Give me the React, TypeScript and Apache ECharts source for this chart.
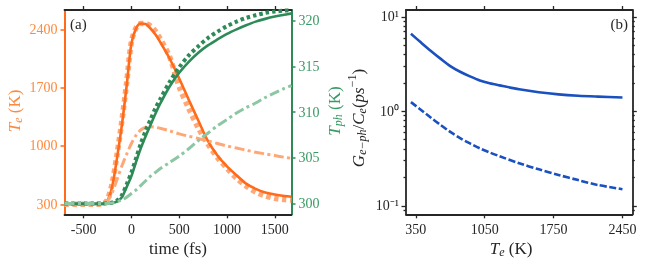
import React, { useEffect, useRef } from 'react';
import * as echarts from 'echarts';

// ---------- Panel (a) data ----------
const timeFs = [-700, -400, -300, -250, -200, -150, -100, -50, 0, 50, 100, 150, 200, 250, 300, 400, 500, 600, 700, 800, 900, 1000, 1100, 1200, 1300, 1400, 1500, 1600, 1675];
const teSolid = [300, 300, 302, 345, 520, 860, 1250, 1720, 2230, 2415, 2470, 2465, 2410, 2340, 2250, 2050, 1810, 1555, 1305, 1060, 885, 755, 648, 548, 485, 442, 418, 400, 390];
const teDotted = [300, 300, 305, 360, 560, 900, 1300, 1760, 2250, 2420, 2470, 2470, 2440, 2380, 2290, 2070, 1710, 1450, 1215, 1025, 862, 732, 612, 520, 447, 402, 372, 356, 350];
const teDashDot = [300, 300, 305, 340, 440, 600, 760, 900, 1030, 1130, 1195, 1225, 1232, 1224, 1212, 1182, 1145, 1117, 1090, 1060, 1030, 1000, 975, 950, 925, 905, 885, 865, 852];
const tphSolid = [300, 300, 300, 300.02, 300.08, 300.25, 300.7, 301.8, 303.0, 304.6, 306.1, 307.4, 308.6, 309.8, 310.9, 312.8, 314.3, 315.5, 316.5, 317.3, 317.95, 318.55, 319.05, 319.5, 319.9, 320.2, 320.45, 320.65, 320.8];
const tphDotted = [300, 300, 300, 300.04, 300.12, 300.35, 300.9, 302.1, 303.4, 305.0, 306.6, 308.0, 309.2, 310.4, 311.4, 313.3, 314.9, 316.2, 317.2, 318.1, 318.8, 319.4, 319.9, 320.3, 320.6, 320.85, 321.0, 321.1, 321.15];
const tphDashDot = [300, 300, 300, 300.02, 300.08, 300.2, 300.4, 300.7, 301.1, 301.5, 302.0, 302.5, 303.0, 303.4, 303.8, 304.5, 305.2, 306.0, 306.9, 307.7, 308.5, 309.2, 309.9, 310.5, 311.0, 311.6, 312.1, 312.6, 312.9];
const timeTicks = [-500, 0, 500, 1000, 1500];
const teTicks = [300, 1000, 1700, 2400];
const tphTicks = [300, 305, 310, 315, 320];

// ---------- Panel (b) data ----------
const teGrid = [300, 400, 500, 600, 700, 800, 900, 1000, 1100, 1200, 1400, 1600, 1800, 2000, 2200, 2450];
const gSolid = [6.61, 5.37, 4.38, 3.61, 3.01, 2.62, 2.34, 2.12, 1.98, 1.88, 1.71, 1.59, 1.51, 1.46, 1.43, 1.40];
const gDashed = [1.25, 1.04, 0.861, 0.719, 0.605, 0.521, 0.457, 0.406, 0.367, 0.335, 0.282, 0.243, 0.212, 0.187, 0.166, 0.150];
const teTicksB = [350, 1050, 1750, 2450];
const logMajor = [0.1, 1, 10];
const logMinor = [0.09, 0.2, 0.3, 0.4, 0.5, 0.6, 0.7, 0.8, 0.9, 2, 3, 4, 5, 6, 7, 8, 9];
const logLabels: Record<string, string> = { '-1': '10\u207B\u00B9', '0': '10\u2070', '1': '10\u00B9' };

const SERIF = 'Liberation Serif';
const ORANGE = '#ff6b1a';
const ORANGE_LIGHT = '#ffa877';
const ORANGE_TXT = '#ff8a3d';
const GREEN = '#2e8b57';
const GREEN_LIGHT = '#8cc6a2';
const GREEN_TXT = '#3a9a64';
const BLUE = '#1a50c0';
const FRAME = '#262626';

const pairs = (xs: number[], ys: number[]) => xs.map((x, i) => [x, ys[i]]);

let measureCtx: CanvasRenderingContext2D | null = null;
function measure(text: string, font: string) {
  if (!measureCtx) measureCtx = document.createElement('canvas').getContext('2d');
  if (!measureCtx) return text.length * 8;
  measureCtx.font = font;
  return measureCtx.measureText(text).width;
}

type Part = { t: string; it?: boolean; small?: boolean; dy?: number };
function mathLabel(parts: Part[], x: number, y: number, color: string, rotation: number, size = 17) {
  const fonts = parts.map((p) => ({ size: p.small ? size - 5 : size, style: p.it ? 'italic' : 'normal' }));
  const widths = parts.map((p, i) => measure(p.t, `${fonts[i].style} ${fonts[i].size}px ${SERIF}`));
  const total = widths.reduce((a, b) => a + b, 0);
  let cur = -total / 2;
  const children = parts.map((p, i) => {
    const el = {
      type: 'text', x: cur, y: p.dy || 0,
      style: { text: p.t, fontFamily: SERIF, fontSize: fonts[i].size, fontStyle: fonts[i].style, fill: color, align: 'left', verticalAlign: 'middle' },
    };
    cur += widths[i];
    return el;
  });
  return { type: 'group', x, y, rotation, children };
}

function buildOption(): any {
  const tickLab = (color: string) => ({ color, fontFamily: SERIF, fontSize: 14 });
  const xAx = (grid: number, pos: string, min: number, max: number, ticks: number[], showLabel: boolean) => ({
    type: 'value', gridIndex: grid, position: pos, min, max,
    axisLine: { show: true, onZero: false, lineStyle: { color: FRAME, width: 1.8 } },
    axisTick: { show: true, inside: false, length: 4, customValues: ticks, lineStyle: { color: FRAME, width: 1.3 } },
    axisLabel: { show: showLabel, customValues: ticks, margin: 8, ...tickLab(FRAME), formatter: (v: number) => String(v) },
    splitLine: { show: false },
  });
  const logAx = (pos: string, ticks: number[], len: number, showLine: boolean, showLabel: boolean) => ({
    type: 'log', gridIndex: 1, position: pos, min: 0.0813, max: 11.8, logBase: 10,
    axisLine: { show: showLine, onZero: false, lineStyle: { color: FRAME, width: 1.8 } },
    axisTick: { show: true, inside: false, length: len, customValues: ticks, lineStyle: { color: FRAME, width: 1.3 } },
    axisLabel: {
      show: showLabel, customValues: logMajor, margin: 7, ...tickLab(FRAME),
      formatter: (v: number) => logLabels[String(Math.round(Math.log10(v)))],
    },
    splitLine: { show: false },
  });

  const line = (name: string, data: any[], xi: number, yi: number, color: string, width: number, type: any, z: number) => ({
    type: 'line', name, data, xAxisIndex: xi, yAxisIndex: yi, showSymbol: false, symbol: 'none',
    smooth: 0.3, z, clip: true,
    lineStyle: { color, width, type, cap: 'butt', join: 'round' },
  });

  const yVal = (pos: string, min: number, max: number, ticks: number[], lineColor: string, txtColor: string) => ({
    type: 'value', gridIndex: 0, position: pos, min, max,
    axisLine: { show: true, onZero: false, lineStyle: { color: lineColor, width: 2 } },
    axisTick: { show: true, length: 4, customValues: ticks, lineStyle: { color: lineColor, width: 1.5 } },
    axisLabel: { customValues: ticks, margin: 7, ...tickLab(txtColor), formatter: (v: number) => String(v) },
    splitLine: { show: false },
  });

  const txt = (x: number, y: number, text: string, size: number, color: string, align: string) => ({
    type: 'text', x, y,
    style: { text, fontFamily: SERIF, fontSize: size, fill: color, align, verticalAlign: 'middle' },
  });

  const R = Math.PI / 2;
  return {
    animation: false,
    grid: [
      { left: 64.5, top: 10, width: 227, height: 204.3 },
      { left: 406, top: 10, width: 226.3, height: 204.3 },
    ],
    xAxis: [
      xAx(0, 'bottom', -700, 1675, timeTicks, true),
      xAx(0, 'top', -700, 1675, timeTicks, false),
      xAx(1, 'bottom', 250, 2550, teTicksB, true),
      xAx(1, 'top', 250, 2550, teTicksB, false),
    ],
    yAxis: [
      yVal('left', 180, 2632, teTicks, ORANGE, ORANGE_TXT),
      yVal('right', 298.83, 321.17, tphTicks, GREEN, GREEN_TXT),
      logAx('left', logMajor, 4.5, true, true),
      logAx('left', logMinor, 2.5, false, false),
      logAx('right', logMajor, 4.5, true, false),
      logAx('right', logMinor, 2.5, false, false),
    ],
    series: [
      line('Te dotted', pairs(timeFs, teDotted), 0, 0, ORANGE_LIGHT, 5.5, [4.5, 3.5], 2),
      line('Te solid', pairs(timeFs, teSolid), 0, 0, ORANGE, 2.6, 'solid', 3),
      line('Te dashdot', pairs(timeFs, teDashDot), 0, 0, ORANGE_LIGHT, 3, [10, 3.5, 3, 3.5], 4),
      line('Tph dotted', pairs(timeFs, tphDotted), 0, 1, GREEN, 4, [3.5, 3], 5),
      line('Tph solid', pairs(timeFs, tphSolid), 0, 1, GREEN, 2.6, 'solid', 6),
      line('Tph dashdot', pairs(timeFs, tphDashDot), 0, 1, GREEN_LIGHT, 3, [10, 3.5, 3, 3.5], 7),
      line('G solid', pairs(teGrid, gSolid), 2, 2, BLUE, 2.6, 'solid', 3),
      line('G dashed', pairs(teGrid, gDashed), 2, 2, BLUE, 2.6, [7, 2.5], 3),
    ],
    graphic: [
      txt(70, 24, '(a)', 15, FRAME, 'left'),
      txt(628, 24, '(b)', 15, FRAME, 'right'),
      txt(178, 248, 'time (fs)', 17, FRAME, 'center'),
      mathLabel([{ t: 'T', it: true }, { t: 'e', it: true, small: true, dy: 4 }, { t: ' (K)' }], 511, 248, FRAME, 0),
      mathLabel([{ t: 'T', it: true }, { t: 'e', it: true, small: true, dy: 4 }, { t: ' (K)' }], 14, 111, ORANGE_TXT, R),
      mathLabel([{ t: 'T', it: true }, { t: 'ph', it: true, small: true, dy: 4 }, { t: ' (K)' }], 334, 111, GREEN_TXT, R),
      mathLabel([
        { t: 'G', it: true }, { t: 'e\u2212ph', it: true, small: true, dy: 4 }, { t: '/' },
        { t: 'C', it: true }, { t: 'e', it: true, small: true, dy: 4 }, { t: '(' },
        { t: 'ps', it: true }, { t: '\u22121', small: true, dy: -6 }, { t: ')' },
      ], 358, 118, FRAME, R),
    ],
  };
}

export default function App() {
  const ref = useRef<HTMLDivElement>(null);
  useEffect(() => {
    if (!ref.current) return;
    const chart = echarts.init(ref.current, null, { renderer: 'svg' });
    chart.setOption(buildOption());
    return () => chart.dispose();
  }, []);
  return <div ref={ref} style={{ position: 'fixed', left: 0, top: 0, width: 664, height: 265 }} />;
}
